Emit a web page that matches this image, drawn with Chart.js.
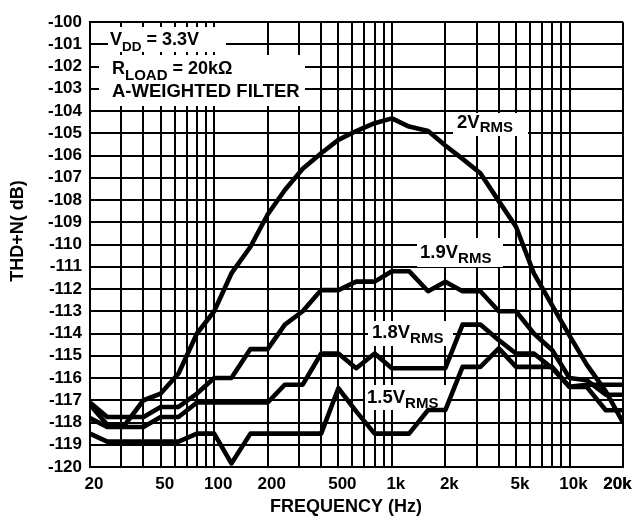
<!DOCTYPE html>
<html>
<head>
<meta charset="utf-8">
<script src="https://cdn.jsdelivr.net/npm/chart.js@4.4.1/dist/chart.umd.min.js"></script>
<style>
  html, body { margin: 0; padding: 0; background: #fff; }
  #wrap { width: 633px; height: 523px; position: relative; }
</style>
</head>
<body>
<div id="wrap"><canvas id="thdChart"></canvas></div>
<script>
// 1/3-octave measurement points (Hz)
const freqHz = [20, 25, 31.5, 40, 50, 63, 80, 100, 125, 160, 200, 250, 315, 400, 500, 630, 800,
                1000, 1250, 1600, 2000, 2500, 3150, 4000, 5000, 6300, 8000, 10000, 12500, 16000, 20000];

// THD+N (dB) per output level
const thd2V  = [-117.2, -118.1, -118.1, -117.0, -116.7, -115.8, -114.0, -113.0, -111.3, -110.1,
                -108.65, -107.55, -106.6, -105.9, -105.3, -104.9, -104.55, -104.33, -104.7, -104.9,
                -105.55, -106.15, -106.8, -108.05, -109.2, -111.3, -112.75, -114.1, -115.4, -116.6, -118.0];
const thd19V = [-117.1, -117.75, -117.75, -117.75, -117.3, -117.3, -116.7, -116.0, -116.0, -114.7,
                -114.7, -113.6, -113.0, -112.05, -112.05, -111.67, -111.67, -111.2, -111.2, -112.1,
                -111.67, -112.1, -112.1, -113.0, -113.0, -114.0, -114.75, -116.0, -116.1, -116.75, -116.75];
const thd18V = [-117.8, -118.2, -118.2, -118.2, -117.75, -117.75, -117.1, -117.1, -117.1, -117.1,
                -117.1, -116.3, -116.3, -114.9, -114.9, -115.56, -114.9, -115.56, -115.56, -115.56,
                -115.56, -113.6, -113.6, -114.3, -114.9, -114.9, -115.56, -116.4, -116.4, -117.45, -117.45];
const thd15V = [-118.5, -118.86, -118.86, -118.86, -118.86, -118.86, -118.5, -118.5, -119.84, -118.5,
                -118.5, -118.5, -118.5, -118.5, -116.46, -117.5, -118.5, -118.5, -118.5, -117.44,
                -117.44, -115.5, -115.5, -114.67, -115.5, -115.5, -115.5, -116.4, -116.3, -116.3, -116.3];

// labelled x ticks
const tickFreqs = [20, 50, 100, 200, 500, 1000, 2000, 5000, 10000, 20000];
const tickText  = ['20', '50', '100', '200', '500', '1k', '2k', '5k', '10k', '20k'];

// grid lines: every 1..9 of each decade from 20 Hz to 20 kHz
const gridFreqs = [];
[10, 100, 1000, 10000].forEach(d => {
  for (let m = 1; m <= 9; m++) {
    const f = m * d;
    if (f >= 20 && f <= 20000) gridFreqs.push(f);
  }
});
gridFreqs.push(20000);

const FONT = '"Liberation Sans", Arial, Helvetica, sans-serif';

function toPoints(ys) {
  return freqHz.map((f, i) => ({ x: f, y: ys[i] }));
}

// draws text pieces one after another: [text, size, dy]
function textRun(ctx, x, y, pieces) {
  let cx = x;
  pieces.forEach(p => {
    ctx.font = 'bold ' + p[1] + 'px ' + FONT;
    ctx.fillText(p[0], cx, y + (p[2] || 0));
    cx += ctx.measureText(p[0]).width;
  });
}

const annotations = {
  id: 'annotations',
  beforeDatasetsDraw(chart) {
    const ctx = chart.ctx;
    ctx.save();
    // white boxes that hide the grid behind the labels
    ctx.fillStyle = '#fff';
    [[108, 27, 118, 25], [99, 55, 206, 51], [453, 113, 75, 23],
     [417, 238, 86, 29], [368, 321, 85, 25], [365, 385, 83, 25]].forEach(b => {
      ctx.fillRect(b[0], b[1], b[2], b[3]);
    });
    ctx.fillStyle = '#000';
    ctx.textBaseline = 'alphabetic';
    ctx.textAlign = 'left';
    textRun(ctx, 110, 45, [['V', 18], ['DD', 13.5, 6], [' = 3.3V', 18]]);
    textRun(ctx, 112, 74, [['R', 18], ['LOAD', 15, 6], [' = 20k\u03A9', 18]]);
    textRun(ctx, 112, 97, [['A-WEIGHTED FILTER', 18.5]]);
    textRun(ctx, 457, 128, [['2V', 18.5], ['RMS', 15, 4]]);
    textRun(ctx, 420, 258, [['1.9V', 18.5], ['RMS', 15, 5]]);
    textRun(ctx, 372, 338, [['1.8V', 18.5], ['RMS', 15, 5]]);
    textRun(ctx, 367, 403, [['1.5V', 18.5], ['RMS', 15, 5]]);
    ctx.restore();
  },
  afterDraw(chart) {
    const ctx = chart.ctx;
    ctx.save();
    ctx.fillStyle = '#000';
    ctx.font = 'bold 18px ' + FONT;
    ctx.textAlign = 'center';
    ctx.textBaseline = 'alphabetic';
    ctx.fillText('FREQUENCY (Hz)', 346, 512);
    ctx.translate(18, 231);
    ctx.rotate(-Math.PI / 2);
    ctx.textBaseline = 'middle';
    ctx.fillText('THD+N( dB)', 0, 0);
    ctx.restore();
  }
};

new Chart(document.getElementById('thdChart').getContext('2d'), {
  type: 'line',
  data: {
    datasets: [
      { label: '2VRMS', data: toPoints(thd2V) },
      { label: '1.9VRMS', data: toPoints(thd19V) },
      { label: '1.8VRMS', data: toPoints(thd18V) },
      { label: '1.5VRMS', data: toPoints(thd15V) }
    ]
  },
  options: {
    responsive: true,
    maintainAspectRatio: false,
    animation: false,
    layout: { padding: { left: 0, right: 10, top: 22, bottom: 0 } },
    plugins: {
      legend: { display: false },
      tooltip: { enabled: false }
    },
    elements: {
      point: { radius: 0 },
      line: {
        tension: 0,
        borderWidth: 4.6,
        borderColor: '#000',
        borderJoinStyle: 'round',
        fill: false
      }
    },
    scales: {
      x: {
        type: 'logarithmic',
        min: 20,
        max: 20000,
        afterBuildTicks: s => { s.ticks = gridFreqs.map(v => ({ value: v })); },
        afterFit: s => { s.height = 56; s.paddingLeft = 0; s.paddingRight = 0; },
        grid: { color: '#000', lineWidth: 2, drawTicks: false },
        border: { color: '#000', width: 2 },
        ticks: {
          autoSkip: false,
          maxRotation: 0,
          minRotation: 0,
          padding: 7,
          labelOffset: 4,
          color: '#000',
          font: { family: FONT, weight: 'bold', size: 17 },
          callback: v => {
            const i = tickFreqs.indexOf(Number(v));
            if (i < 0) return '';
            // last label sits inside the canvas edge: pad with figure spaces
            return i === tickFreqs.length - 1 ? tickText[i] + '\u2007\u2007' : tickText[i];
          }
        }
      },
      y: {
        min: -120,
        max: -100,
        afterFit: s => { s.width = 90; s.paddingTop = 0; s.paddingBottom = 0; },
        grid: { color: '#000', lineWidth: 2, drawTicks: false },
        border: { color: '#000', width: 2 },
        ticks: {
          stepSize: 1,
          autoSkip: false,
          padding: 8,
          color: '#000',
          font: { family: FONT, weight: 'bold', size: 17 }
        }
      }
    }
  },
  plugins: [annotations]
});
</script>
</body>
</html>
